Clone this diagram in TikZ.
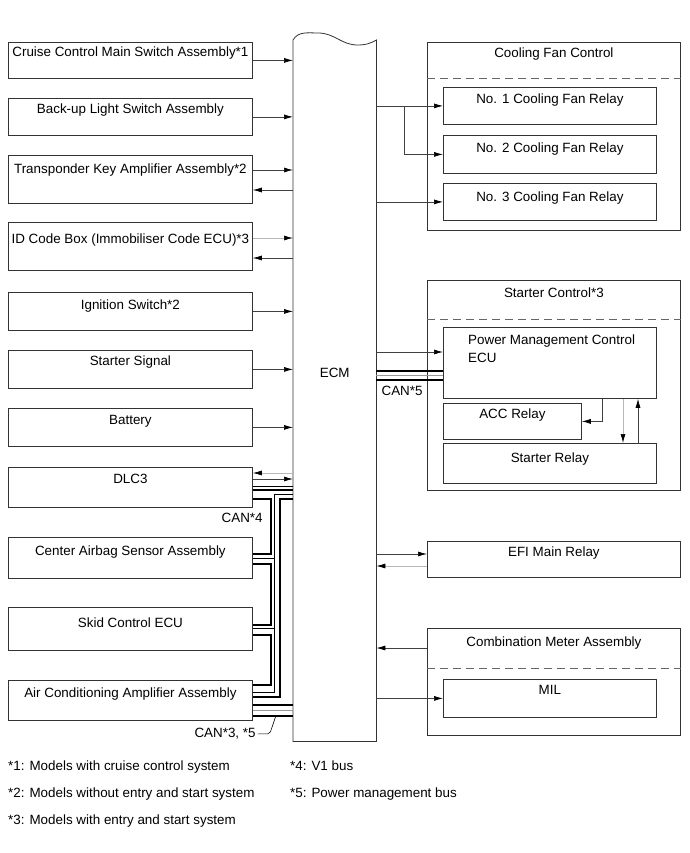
\documentclass[tikz,border=0pt]{standalone}
\usepackage{fontspec}
\setmainfont{Liberation Sans}
\usepackage{tikz}
\usetikzlibrary{arrows.meta}

\begin{document}
\begin{tikzpicture}[x=1pt,y=-1pt,
  lbox/.style={draw=black!80,line width=0.8pt,anchor=north west,minimum width=244pt,text height=16pt},
  rbox/.style={lbox,minimum width=253pt},
  ibox/.style={lbox,minimum width=213pt},
  sig/.style={line width=0.7pt,draw=black!75,-{Latex[length=9pt,width=5pt,color=black]}},
  sigg/.style={sig,draw=black!28},
  bus/.style={line width=2.6pt},
  wire/.style={line width=0.6pt},
  sep/.style={draw=black!60,line width=0.7pt,dash pattern=on 8pt off 5pt}]
\tikzstyle{every node}+=[inner sep=0pt,font=\fontsize{13.4}{18}\selectfont]
\useasboundingbox (0,0) rectangle (689,853);
% inputs
\node[lbox,text height=14pt,text depth=22pt] (cruise) at (8,42) {Cruise Control Main Switch Assembly*1};
\node[lbox,text height=15pt,text depth=22pt] (backup) at (8,98) {Back-up Light Switch Assembly};
\node[lbox,text height=18pt,text depth=30pt] (transp) at (8,155) {Transponder Key Amplifier Assembly*2};
\node[lbox,text height=21pt,text depth=27pt] (idbox) at (8,222) {ID Code Box (Immobiliser Code ECU)*3};
\node[lbox,text height=17pt,text depth=21pt] (ignsw) at (8,292) {Ignition Switch*2};
\node[lbox,text height=15pt,text depth=23pt] (stsig) at (8,350) {Starter Signal};
\node[lbox,text height=16pt,text depth=22pt] (batt) at (8,408) {Battery};
\node[lbox,text height=16pt,text depth=24pt] (dlc) at (8,467) {DLC3};
\node[lbox,text height=18pt,text depth=23pt] (airbag) at (8,537) {Center Airbag Sensor Assembly};
\node[lbox,text height=20pt,text depth=23pt] (skid) at (8,607) {Skid Control ECU};
\node[lbox,text height=17pt,text depth=23pt] (acamp) at (8,680) {Air Conditioning Amplifier Assembly};
% ECM
\node[anchor=north west,minimum width=83pt,text height=337pt,text depth=364pt] (ecm) at (293,40) {ECM};
\draw[line width=0.8pt,draw=black!80] (ecm.north west) -- (ecm.south west) -- (ecm.south east) -- (ecm.north east)
  to[out=210,in=0] ++(-19,5) to[out=180,in=0] ++(-39,-12) to[out=180,in=60] (ecm.north west);
% outputs
\node[rbox,text height=15pt,text depth=173pt] (fanctl) at (427,42) {Cooling Fan Control};
\draw[sep] ([yshift=-36pt]fanctl.north west) -- ([yshift=-36pt]fanctl.north east);
\node[ibox,text height=16pt,text depth=21pt] (fan1) at (443,87) {No. 1 Cooling Fan Relay};
\node[ibox,text height=17pt,text depth=21pt] (fan2) at (443,135) {No. 2 Cooling Fan Relay};
\node[ibox,text height=18pt,text depth=19pt] (fan3) at (443,183) {No. 3 Cooling Fan Relay};
\node[rbox,text height=17pt,text depth=193pt] (stctl) at (427,280) {Starter Control*3};
\draw[sep] ([yshift=-39pt]stctl.north west) -- ([yshift=-39pt]stctl.north east);
\node[ibox,minimum height=71pt] (pmc) at (443,327) {};
\node[anchor=north west,align=left] (pmctxt) at ([xshift=25pt,yshift=-8pt]pmc.north west) {Power Management Control\\ECU};
\node[ibox,minimum width=138pt,text height=15pt,text depth=21pt] (acc) at (443,403) {ACC Relay};
\node[ibox,text height=19pt,text depth=21pt] (strly) at (443,443) {Starter Relay};
\node[rbox,text height=15pt,text depth=21pt] (efi) at (427,541) {EFI Main Relay};
\node[rbox,text height=18pt,text depth=89pt] (combo) at (427,628) {Combination Meter Assembly};
\draw[sep] ([yshift=-40pt]combo.north west) -- ([yshift=-40pt]combo.north east);
\node[ibox,text height=15pt,text depth=23pt] (mil) at (443,679) {MIL};
% input signals
\draw[sig] (cruise.east) -- (cruise.east -| ecm.west);
\draw[sig] (backup.east) -- (backup.east -| ecm.west);
\path (transp.north east) ++(0,15) coordinate (tk1) ++(0,20) coordinate (tk2);
\draw[sig] (tk1) -- (tk1 -| ecm.west);
\draw[sig] (tk2 -| ecm.west) -- (tk2);
\path (idbox.north east) ++(0,16) coordinate (id1) ++(0,20) coordinate (id2);
\draw[sigg] (id1) -- (id1 -| ecm.west);
\draw[sig] (id2 -| ecm.west) -- (id2);
\draw[sig] (ignsw.east) -- (ignsw.east -| ecm.west);
\draw[sig] (stsig.east) -- (stsig.east -| ecm.west);
\draw[sig] (batt.east) -- (batt.east -| ecm.west);
\path (dlc.north east) ++(0,6) coordinate (dl1) ++(0,6) coordinate (dl2) ++(0,7) coordinate (v1a)
  ++(0,4) coordinate (v1b) ++(0,4) coordinate (v1c) ++(0,5) coordinate (v1d);
\draw[sigg] (dl1 -| ecm.west) -- (dl1);
\draw[sig] (dl2) -- (dl2 -| ecm.west);
% V1 bus
\path (airbag.north east) ++(0,17) coordinate (ab1) ++(0,4) coordinate (ab2) ++(0,6) coordinate (ab3);
\path (skid.north east) ++(0,18) coordinate (sk1) ++(0,3) coordinate (sk2) ++(0,7) coordinate (sk3);
\path (acamp.north east) ++(0,5) coordinate (ac1) ++(0,7) coordinate (ac2) ++(0,5) coordinate (ac3)
  ++(0,8) coordinate (ac4) ++(0,5) coordinate (ac5) ++(0,6) coordinate (ac6);
\draw[wire] (v1a) -- (v1a -| ecm.west);
\draw[bus] (v1b) -- (v1b -| ecm.west);
\draw[bus] (v1d) -- ++(18,0) |- (ab1);
\draw[bus] (ab3) -- ++(18,0) |- (sk1);
\draw[bus] (sk3) -- ++(18,0) |- (ac1);
\draw[bus] (v1d -| ecm.west) -- ++(-13,0) |- (ac3);
\draw[wire] (v1c -| ecm.west) -- ++(-19,0) |- (ac2);
\draw[wire] (ab2) -- ++(22,0);
\draw[wire] (sk2) -- ++(22,0);
\path (dlc.south east) ++(10,10) coordinate (c4);
\node[anchor=east] (canfour) at (c4) {CAN*4};
% CAN bus
\draw[bus] (ac4) -- (ac4 -| ecm.west);
\draw[wire,black!40] (ac5) -- (ac5 -| ecm.west);
\draw[bus] (ac6) -- (ac6 -| ecm.west);
\path (acamp.south east) ++(3,13) coordinate (c35);
\node[anchor=east] (canthree) at (c35) {CAN*3, *5};
\path (ac6) ++(23,0) coordinate (ldr);
\draw[wire,rounded corners=2pt] ([xshift=2pt]canthree.east) -- ++(12,0) -- (ldr);
% output signals
\draw[sig] (ecm.east |- fan1.west) -- (fan1.west);
\path (ecm.east |- fan1.west) ++(28,0) coordinate (fj);
\draw[sig] (fj) |- (fan2.west);
\draw[sig] (ecm.east |- fan3.west) -- (fan3.west);
\path (pmc.north west) ++(0,25) coordinate (pm1) ++(0,19) coordinate (pm2) ++(0,4) coordinate (pm3) ++(0,5) coordinate (pm4);
\draw[sig] (pm1 -| ecm.east) -- (pm1);
\draw[bus] (pm2 -| ecm.east) -- (pm2);
\draw[wire,black!40] (pm3 -| ecm.east) -- (pm3);
\draw[bus] (pm4 -| ecm.east) -- (pm4);
\path (pm4 -| ecm.east) ++(5,6) coordinate (c5);
\node[anchor=north west] (canfive) at (c5) {CAN*5};
\path (pmc.south west) ++(159,0) coordinate (q1) ++(21,0) coordinate (q2) ++(15,0) coordinate (q3);
\draw[sig] (q1) |- (acc.east);
\draw[sigg] (q2) -- (q2 |- strly.north);
\draw[sig] (q3 |- strly.north) -- (q3);
\path (efi.north west) ++(0,13) coordinate (ef1) ++(0,12) coordinate (ef2);
\draw[sig] (ef1 -| ecm.east) -- (ef1);
\draw[sigg] (ef2) -- (ef2 -| ecm.east);
\path (combo.north west) ++(0,20) coordinate (cm1);
\draw[sig] (cm1) -- (cm1 -| ecm.east);
\draw[sig] (ecm.east |- mil.west) -- (mil.west);
% notes
\node[anchor=base west] (fn1) at (8,770) {*1: Models with cruise control system};
\node[anchor=base west] (fn2) at (8,797) {*2: Models without entry and start system};
\node[anchor=base west] (fn3) at (8,824) {*3: Models with entry and start system};
\node[anchor=base west] (fn4) at (290,770) {*4: V1 bus};
\node[anchor=base west] (fn5) at (290,797) {*5: Power management bus};
\end{tikzpicture}
\end{document}
